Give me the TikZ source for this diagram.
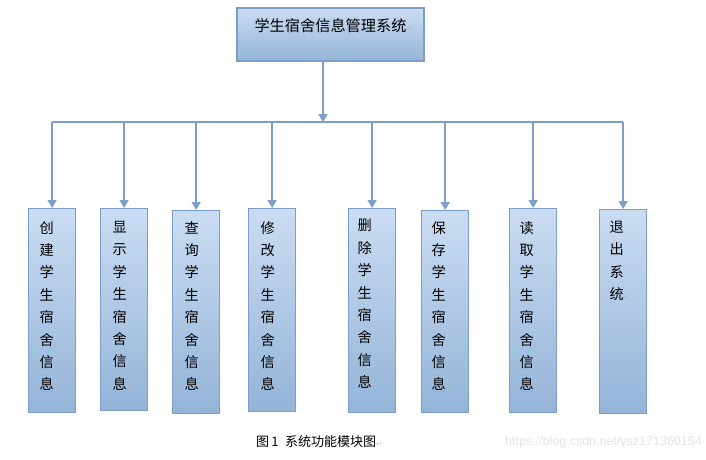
\documentclass[tikz,border=0pt]{standalone}
\usepackage{fontspec}
\setmainfont{Noto Sans CJK SC}
\newfontfamily\symfont{DejaVu Sans}
\newfontfamily\urlfont{Liberation Sans}
\usetikzlibrary{arrows.meta, positioning}
\definecolor{boxline}{RGB}{124,156,201}
\definecolor{boxtop}{RGB}{202,220,242}
\definecolor{boxbottom}{RGB}{148,180,216}
\definecolor{wire}{RGB}{126,157,202}
\newcommand*{\ret}{\rlap{\symfont\fontsize{7pt}{7pt}\selectfont\textcolor{gray!55}{↵}}}
\tikzstyle{block} = [draw=boxline, line width=1.3pt, top color=boxtop, bottom color=boxbottom, rectangle, inner sep=0pt]
\tikzstyle{module} = [block, anchor=north west, minimum width=47pt]
\tikzstyle{column} = [inner sep=0pt, align=left, font=\fontsize{14.2pt}{22.4pt}\selectfont]
\tikzstyle{path} = [-{Triangle[width=9pt, length=8pt]}, wire, line width=1.6pt]

\begin{document}
\begin{tikzpicture}[x=1pt, y=-1pt]
    \useasboundingbox (0,0) rectangle (706,459);
    \node (title) [block, minimum width=187pt, minimum height=53pt] at (330.5,34.5) {};
    \node (title text) [inner sep=0pt, font=\fontsize{15.2pt}{18pt}\selectfont, below=11pt of title.north] {学生宿舍信息管理系统\ret};
    \coordinate (bus) at (323,122);

    \foreach \i/\x/\y/\h in {1/28/208/204, 2/100/208/202, 3/172/210/203, 4/248/208/203,
                             5/348/208/204, 6/421/210/202, 7/509/208/204, 8/599/209/204} {%
        \node (box \i) [module, minimum height=\h pt] at (\x,\y) {};
    }
    \node (text 1) [column, below right=13pt and 11.5pt of box 1.north west] {创\\建\\学\\生\ret\\宿\\舍\\信\\息\ret};
    \node (text 2) [column, below right=13pt and 12.5pt of box 2.north west] {显\\示\\学\\生\\宿\\舍\\信\\息\ret};
    \node (text 3) [column, below right=11pt and 12.5pt of box 3.north west] {查\\询\\学\\生\\宿\\舍\\信\\息\ret};
    \node (text 4) [column, below right=13pt and 12.5pt of box 4.north west] {修\\改\\学\\生\\宿\\舍\\信\\息\ret};
    \node (text 5) [column, below right=11pt and 9.5pt of box 5.north west] {删\\除\\学\\生\\宿\\舍\\信\\息\ret};
    \node (text 6) [column, below right=11pt and 10.5pt of box 6.north west] {保\\存\\学\\生\\宿\\舍\\信\\息\ret};
    \node (text 7) [column, below right=13pt and 10.5pt of box 7.north west] {读\\取\\学\\生\\宿\\舍\\信\\息\ret};
    \node (text 8) [column, below right=12pt and 10.5pt of box 8.north west] {退\\出\\系\\统\ret};

    % Arrows.
    \draw [path] (title.south -| bus) -- (bus);
    \draw [wire, line width=1.6pt] (box 1.north |- bus) -- (box 8.north |- bus);
    \foreach \i in {1, ..., 8} {%
        \draw [path] (box \i.north |- bus) -- (box \i.north);
    }

    \node (caption) [inner sep=0pt, anchor=west, font=\fontsize{13pt}{13pt}\selectfont] at (256,442) {图\,1\enspace 系统功能模块图\ret};
    \node (mark) [inner sep=0pt, anchor=east, text=gray!22, font=\urlfont\fontsize{12.5pt}{12.5pt}\selectfont] at (702,442) {https://blog.csdn.net/ysz171360154};
\end{tikzpicture}
\end{document}
